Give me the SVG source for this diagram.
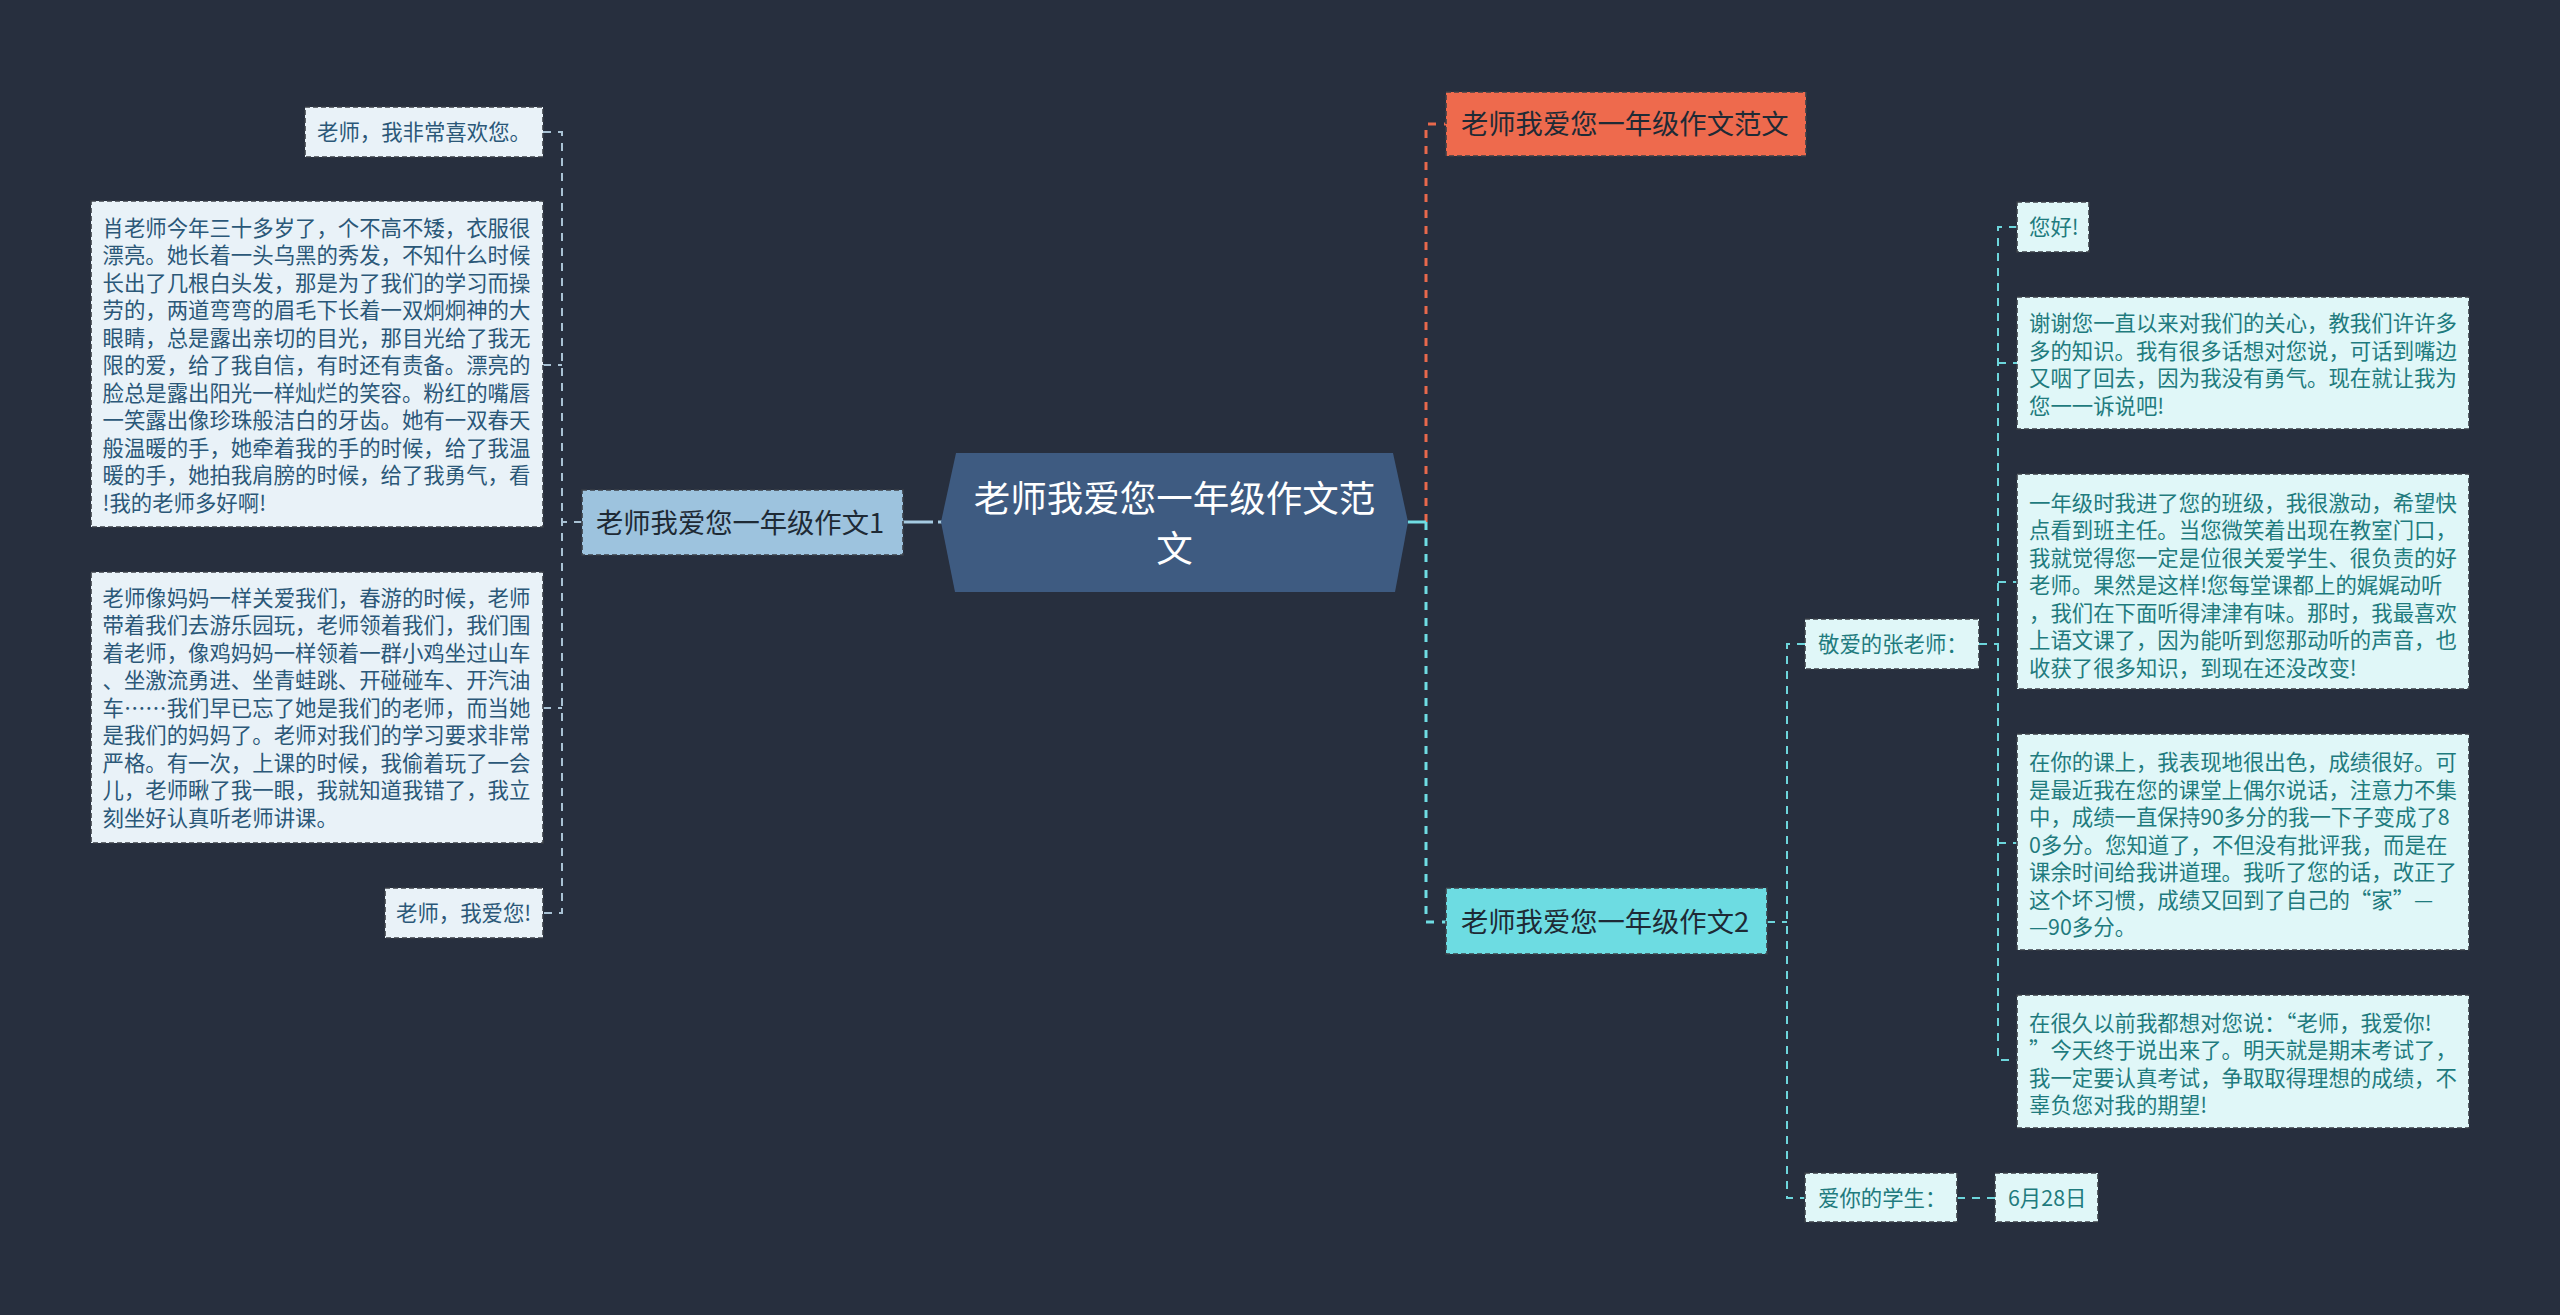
<svg xmlns="http://www.w3.org/2000/svg" width="2560" height="1315" viewBox="0 0 2560 1315">
<style>
text{font-family:"Noto Sans CJK SC","Noto Sans",sans-serif;dominant-baseline:central;transform:translate(0px,-2px)}
.lb{fill:#e9f2f8;stroke:#3a3f47;stroke-width:1.6;stroke-dasharray:5 3}
.rb{fill:#e0f7f8;stroke:#3a3f47;stroke-width:1.6;stroke-dasharray:5 3}
.lt{font-size:21.4px;fill:#2b5878}
.rt{font-size:21.4px;fill:#1f7b7e}
.nt{font-size:27.3px;fill:#1e2a35}
.cl{fill:none;stroke:#a9c2d4;stroke-width:2;stroke-dasharray:8 7}
.cc{fill:none;stroke:#6dd6dc;stroke-width:2;stroke-dasharray:8 7}
.cm{fill:none;stroke:#6fdde3;stroke-width:3;stroke-dasharray:8 8}
.co{fill:none;stroke:#e8694c;stroke-width:3;stroke-dasharray:8 8}
</style>
<rect width="2560" height="1315" fill="#272f3e"/>
<g id="connectors">
<path class="cl" d="M543 132H562V913H543M543 365H562M543 708H562M582 522H562"/>
<path d="M903 522H942" fill="none" stroke="#a6cbe2" stroke-width="3" stroke-dasharray="30 5"/>
<path class="co" d="M1426 522V124H1446"/>
<path class="cm" d="M1426 522V922H1446"/>
<path d="M1408 522H1426" fill="none" stroke="#6fdde3" stroke-width="3"/>
<path class="cc" d="M1767 922H1787M1805 644H1787V1198H1805"/>
<path class="cc" d="M1979 644H1998M2017 227H1998V1060H2017M1998 363H2017M1998 582H2017M1998 843H2017"/>
<path class="cc" d="M1957 1198H1995"/>
</g>
<g id="root">
<polygon points="956,453 1393,453 1408,522 1395,592 955,592 941,522" fill="#3e5b81"/>
<text x="1174.5" y="498" font-size="36.5" fill="#ffffff" text-anchor="middle">老师我爱您一年级作文范</text>
<text x="1174.5" y="548" font-size="36.5" fill="#ffffff" text-anchor="middle">文</text>
</g>
<g id="node-zw1">
<rect x="582" y="490" width="321" height="65" fill="#9dc3de" stroke="#3a3f47" stroke-width="1.6" stroke-dasharray="5 3"/>
<text class="nt" x="596" y="523">老师我爱您一年级作文1</text>
</g>
<g id="node-fanwen">
<rect x="1446" y="92" width="360" height="64" fill="#ee6a4d" stroke="#3a3f47" stroke-width="1.6" stroke-dasharray="5 3"/>
<text class="nt" x="1461" y="124" fill="#3a2420">老师我爱您一年级作文范文</text>
</g>
<g id="node-zw2">
<rect x="1446" y="888" width="321" height="66" fill="#6ddce2" stroke="#3a3f47" stroke-width="1.6" stroke-dasharray="5 3"/>
<text class="nt" x="1461" y="921.5">老师我爱您一年级作文2</text>
</g>
<g id="l-a">
<rect class="lb" x="305" y="107" width="238" height="50"/>
<text class="lt" x="317" y="132">老师，我非常喜欢您。</text>
</g>
<g id="l-b">
<rect class="lb" x="91" y="201" width="452" height="326"/>
<text class="lt" x="102.5" y="228">肖老师今年三十多岁了，个不高不矮，衣服很</text>
<text class="lt" x="102.5" y="255.5">漂亮。她长着一头乌黑的秀发，不知什么时候</text>
<text class="lt" x="102.5" y="283">长出了几根白头发，那是为了我们的学习而操</text>
<text class="lt" x="102.5" y="310.5">劳的，两道弯弯的眉毛下长着一双炯炯神的大</text>
<text class="lt" x="102.5" y="338">眼睛，总是露出亲切的目光，那目光给了我无</text>
<text class="lt" x="102.5" y="365.5">限的爱，给了我自信，有时还有责备。漂亮的</text>
<text class="lt" x="102.5" y="393">脸总是露出阳光一样灿烂的笑容。粉红的嘴唇</text>
<text class="lt" x="102.5" y="420.5">一笑露出像珍珠般洁白的牙齿。她有一双春天</text>
<text class="lt" x="102.5" y="448">般温暖的手，她牵着我的手的时候，给了我温</text>
<text class="lt" x="102.5" y="475.5">暖的手，她拍我肩膀的时候，给了我勇气，看</text>
<text class="lt" x="102.5" y="503">!我的老师多好啊!</text>
</g>
<g id="l-c">
<rect class="lb" x="91" y="572" width="452" height="271"/>
<text class="lt" x="102.5" y="598">老师像妈妈一样关爱我们，春游的时候，老师</text>
<text class="lt" x="102.5" y="625.5">带着我们去游乐园玩，老师领着我们，我们围</text>
<text class="lt" x="102.5" y="653">着老师，像鸡妈妈一样领着一群小鸡坐过山车</text>
<text class="lt" x="102.5" y="680.5">、坐激流勇进、坐青蛙跳、开碰碰车、开汽油</text>
<text class="lt" x="102.5" y="708">车……我们早已忘了她是我们的老师，而当她</text>
<text class="lt" x="102.5" y="735.5">是我们的妈妈了。老师对我们的学习要求非常</text>
<text class="lt" x="102.5" y="763">严格。有一次，上课的时候，我偷着玩了一会</text>
<text class="lt" x="102.5" y="790.5">儿，老师瞅了我一眼，我就知道我错了，我立</text>
<text class="lt" x="102.5" y="818">刻坐好认真听老师讲课。</text>
</g>
<g id="l-d">
<rect class="lb" x="385" y="888" width="158" height="50"/>
<text class="lt" x="396" y="913">老师，我爱您!</text>
</g>
<g id="r-jingai">
<rect class="rb" x="1805" y="619" width="174" height="50"/>
<text class="rt" x="1818" y="644">敬爱的张老师：</text>
</g>
<g id="r-xuesheng">
<rect class="rb" x="1805" y="1173" width="152" height="49"/>
<text class="rt" x="1818" y="1198">爱你的学生：</text>
</g>
<g id="r-date">
<rect class="rb" x="1995" y="1173" width="103" height="49"/>
<text class="rt" x="2008" y="1198">6月28日</text>
</g>
<g id="r-a">
<rect class="rb" x="2017" y="202" width="72" height="50"/>
<text class="rt" x="2029" y="227">您好!</text>
</g>
<g id="r-b">
<rect class="rb" x="2017" y="297" width="452" height="132"/>
<text class="rt" x="2029" y="323.5">谢谢您一直以来对我们的关心，教我们许许多</text>
<text class="rt" x="2029" y="351">多的知识。我有很多话想对您说，可话到嘴边</text>
<text class="rt" x="2029" y="378.5">又咽了回去，因为我没有勇气。现在就让我为</text>
<text class="rt" x="2029" y="406">您一一诉说吧!</text>
</g>
<g id="r-c">
<rect class="rb" x="2017" y="474" width="452" height="215"/>
<text class="rt" x="2029" y="503">一年级时我进了您的班级，我很激动，希望快</text>
<text class="rt" x="2029" y="530.5">点看到班主任。当您微笑着出现在教室门口，</text>
<text class="rt" x="2029" y="558">我就觉得您一定是位很关爱学生、很负责的好</text>
<text class="rt" x="2029" y="585.5">老师。果然是这样!您每堂课都上的娓娓动听</text>
<text class="rt" x="2029" y="613">，我们在下面听得津津有味。那时，我最喜欢</text>
<text class="rt" x="2029" y="640.5">上语文课了，因为能听到您那动听的声音，也</text>
<text class="rt" x="2029" y="668">收获了很多知识，到现在还没改变!</text>
</g>
<g id="r-d">
<rect class="rb" x="2017" y="734" width="452" height="216"/>
<text class="rt" x="2029" y="762.5">在你的课上，我表现地很出色，成绩很好。可</text>
<text class="rt" x="2029" y="790">是最近我在您的课堂上偶尔说话，注意力不集</text>
<text class="rt" x="2029" y="817.5">中，成绩一直保持90多分的我一下子变成了8</text>
<text class="rt" x="2029" y="845">0多分。您知道了，不但没有批评我，而是在</text>
<text class="rt" x="2029" y="872.5">课余时间给我讲道理。我听了您的话，改正了</text>
<text class="rt" x="2029" y="900">这个坏习惯，成绩又回到了自己的“家”—</text>
<text class="rt" x="2029" y="927.5">—90多分。</text>
</g>
<g id="r-e">
<rect class="rb" x="2017" y="995" width="452" height="133"/>
<text class="rt" x="2029" y="1023">在很久以前我都想对您说：“老师，我爱你!</text>
<text class="rt" x="2029" y="1050.5">”今天终于说出来了。明天就是期末考试了，</text>
<text class="rt" x="2029" y="1078">我一定要认真考试，争取取得理想的成绩，不</text>
<text class="rt" x="2029" y="1105.5">辜负您对我的期望!</text>
</g>
</svg>
